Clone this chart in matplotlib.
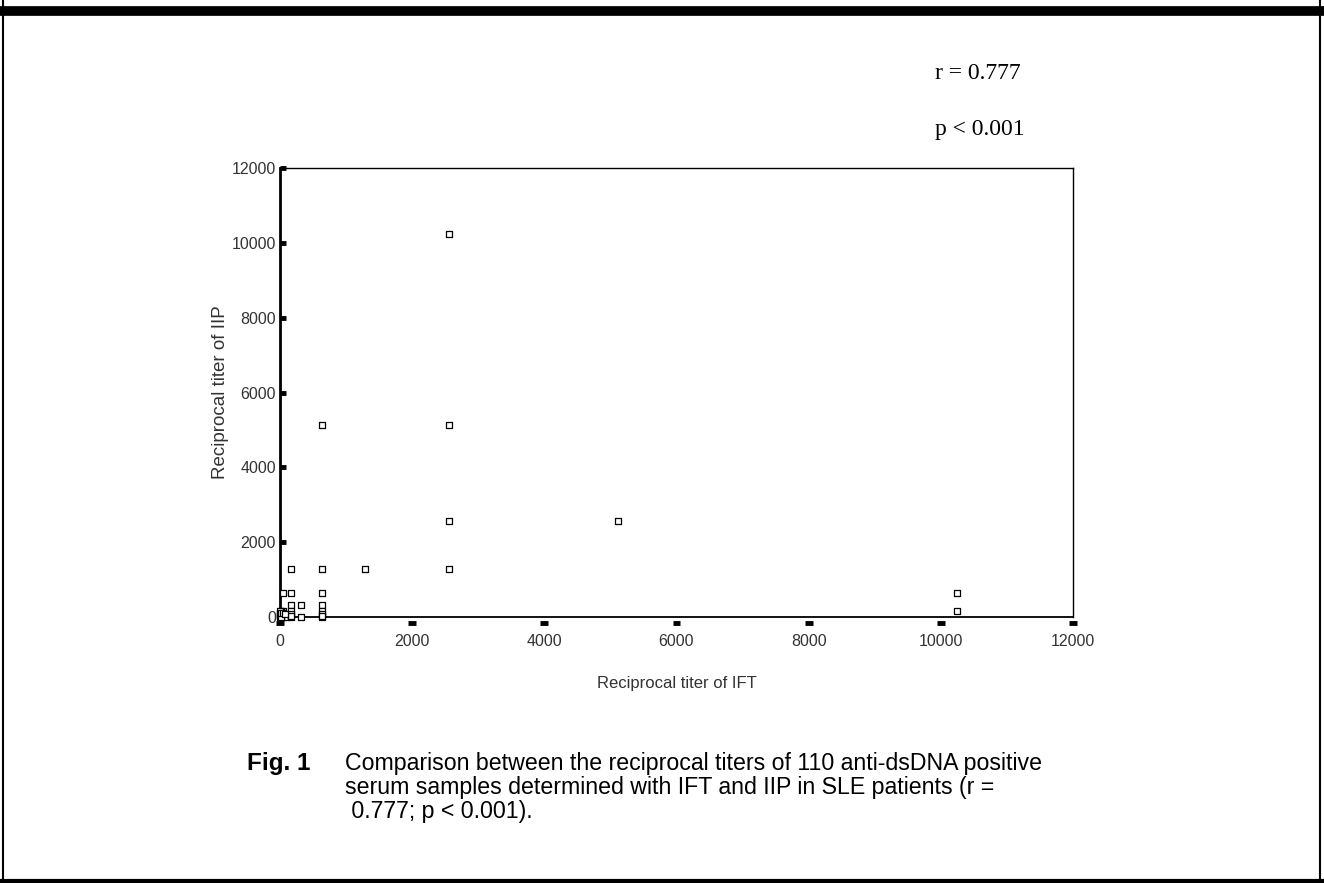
import matplotlib.pyplot as plt

# Valores (títulos recíprocos)
ift = [2560, 640, 2560, 2560, 5120, 160, 640, 1280, 2560,
       40, 160, 640, 10240, 10240,
       160, 320, 640, 160, 640, 160, 640,
       0, 10, 20, 40, 20, 40, 80, 10, 40, 80, 160, 320, 640, 640, 160, 40,
       0, 0, 10, 20, 10, 0, 20, 40, 80]
iip = [10240, 5120, 5120, 2560, 2560, 1280, 1280, 1280, 1280,
       640, 640, 640, 640, 160,
       320, 320, 320, 160, 160, 80, 80,
       0, 10, 20, 40, 80, 80, 40, 80, 0, 0, 0, 0, 0, 40, 40, 160,
       40, 80, 0, 0, 160, 160, 120, 120, 80]

xticks = [0, 2000, 4000, 6000, 8000, 10000, 12000]
yticks = [0, 2000, 4000, 6000, 8000, 10000, 12000]

caption = ["Comparison between the reciprocal titers of 110 anti-dsDNA positive",
           "serum samples determined with IFT and IIP in SLE patients (r =",
           " 0.777; p < 0.001)."]

plt.rcParams['font.family'] = ['Liberation Sans', 'DejaVu Sans']

fig = plt.figure(figsize=(13.24, 8.83), dpi=100)
ax = fig.add_axes([0.2115, 0.3012, 0.5989, 0.5085])

ax.scatter(ift, iip, marker='s', s=16, facecolors='white', edgecolors='black',
           linewidths=0.9, zorder=3, clip_on=False)

ax.set_xlim(0, 12000)
ax.set_ylim(0, 12000)
ax.set_xticks(xticks)
ax.set_yticks(yticks)
ax.tick_params(axis='x', direction='out', length=0, pad=12, labelsize=11.5, colors='#333333')
ax.tick_params(axis='y', direction='in', length=4, width=3.5, pad=3, labelsize=11.5, colors='#333333')
ax.tick_params(axis='y', color='black')

# marcas del eje x: pequeños rectángulos debajo del eje
for t in xticks:
    ax.plot([t - 60, t + 60], [-150, -150], color='black', linewidth=3.5,
            solid_capstyle='butt', clip_on=False)

ax.spines['left'].set_linewidth(2.0)
ax.spines['bottom'].set_linewidth(1.3)
ax.spines['top'].set_linewidth(1.0)
ax.spines['right'].set_linewidth(1.0)

ax.set_xlabel('Reciprocal titer of IFT', fontsize=12, labelpad=20, color='#333333')
ax.set_ylabel('Reciprocal titer of IIP', fontsize=13.5, labelpad=2, color='#333333')

# anotación de correlación
fig.text(0.706, 0.910, 'r = 0.777', family=['Liberation Serif', 'DejaVu Serif'], fontsize=17)
fig.text(0.706, 0.847, 'p < 0.001', family=['Liberation Serif', 'DejaVu Serif'], fontsize=17)

# pie de figura
fig.text(0.1865, 0.1225, 'Fig. 1', fontsize=17.5, fontweight='bold', va='bottom')
for i, line in enumerate(caption):
    fig.text(0.2605, 0.1225 - 0.0275 * i, line, fontsize=16.7, va='bottom')

# marco de la página
fig.add_artist(plt.Line2D([0, 1], [0.988, 0.988], transform=fig.transFigure, color='black', linewidth=7))
fig.add_artist(plt.Line2D([0, 1], [0.002, 0.002], transform=fig.transFigure, color='black', linewidth=3))
fig.add_artist(plt.Line2D([0.0025, 0.0025], [0, 1], transform=fig.transFigure, color='black', linewidth=1.5))
fig.add_artist(plt.Line2D([0.997, 0.997], [0, 1], transform=fig.transFigure, color='black', linewidth=1.5))

fig.savefig('out.png', dpi=100, facecolor='white')
